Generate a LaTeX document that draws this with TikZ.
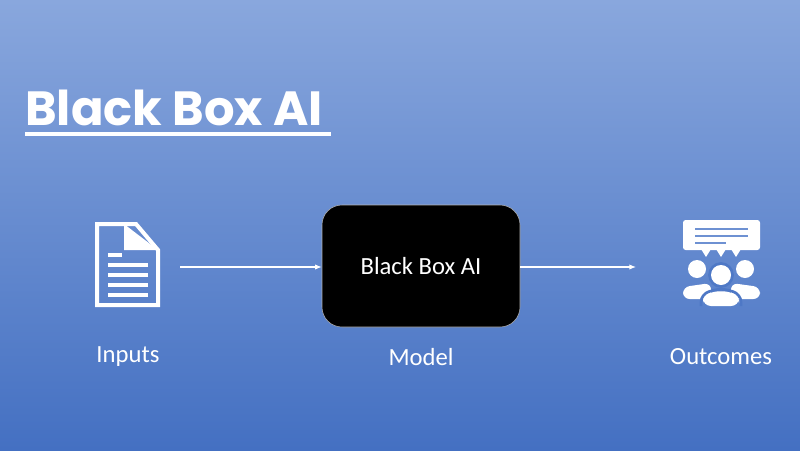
\documentclass[tikz,border=0pt]{standalone}
\usepackage{fontspec}
\setmainfont{Carlito}
\newfontfamily\titlefont{Poppins}
\usetikzlibrary{positioning}
\usetikzlibrary{arrows.meta}
\definecolor{bgtop}{RGB}{137,167,221}
\definecolor{bgbot}{RGB}{68,112,194}
\definecolor{iconline}{RGB}{110,145,210}
\tikzset{
  caption/.style={text=white, font=\fontsize{18.5}{20}\selectfont},
  flow/.style={draw=white, line width=0.8pt, -{Latex[length=5pt,width=4pt]}},
  icon/.style={draw=white, line width=3pt, line join=miter}
}
\begin{document}
\begin{tikzpicture}[x=0.75pt, y=-0.75pt]
      \shade[top color=bgtop, bottom color=bgbot] (0,0) rectangle (800,450);
      \useasboundingbox (0,0) rectangle (800,450);

      % title
      \node[anchor=base west, inner sep=0, text=white, font=\titlefont\bfseries\fontsize{36}{40}\selectfont] (title) at (25,125) {Black Box AI};
      \draw[white, line width=2.5pt] (25,134) -- (331,134);

      % model
      \node[draw=gray!60, fill=black, rounded corners=15pt, minimum width=198*0.75pt, minimum height=122*0.75pt,
            text=white, font=\fontsize{18.5}{20}\selectfont] (model) at (421,266) {Black Box AI};

      \coordinate (inR) at (180,267);
      \coordinate (outL) at (636,267);
      \draw[flow] (inR) -- (model.west |- inR);
      \draw[flow] (model.east |- outL) -- (outL);

      % document icon
      \draw[icon] (97,224) -- (136,224) -- (158,250) -- (158,305) -- (97,305) -- cycle;
      \fill[white] (124,224) -- (124,250) -- (158,250) -- cycle;
      \draw[white, line width=3pt] (108,255) -- (122,255);
      \foreach \y in {265,275,285,295}
        \draw[white, line width=3pt] (108,\y) -- (148,\y);

      % outcomes icon
      \fill[white, rounded corners=2pt] (683,220) rectangle (760,250);
      \foreach \x in {706,721,736}
        \fill[white] (\x-5,249) -- (\x+5,249) -- (\x,257) -- cycle;
      \draw[iconline, line width=2pt] (695,229) -- (748,229);
      \draw[iconline, line width=2pt] (695,236) -- (748,236);
      \draw[iconline, line width=2pt] (695,243) -- (726,243);
      \fill[white] (697,269) circle (9);
      \fill[white] (745,269) circle (9);
      \fill[white, rounded corners=5pt] (683,299) -- (683,287) -- (711,283) -- (711,299) -- cycle;
      \fill[white, rounded corners=5pt] (731,299) -- (731,283) -- (760,287) -- (760,299) -- cycle;
      \draw[bgbot!85!bgtop, line width=2pt] (721,275) circle (11.5);
      \fill[white] (721,275) circle (10);
      \draw[bgbot!85!bgtop, line width=2pt, rounded corners=6pt] (701,306) -- (701,294) -- (721,288) -- (741,294) -- (741,306);
      \fill[white, rounded corners=6pt] (703,306) -- (703,295) -- (721,290) -- (739,295) -- (739,306) -- cycle;

      % captions
      \node[caption] (inputs) at (128,357) {Inputs};
      \node[caption] (modellabel) at (421,357) {Model};
      \node[caption] (outcomes) at (721,357) {Outcomes};
\end{tikzpicture}
\end{document}
